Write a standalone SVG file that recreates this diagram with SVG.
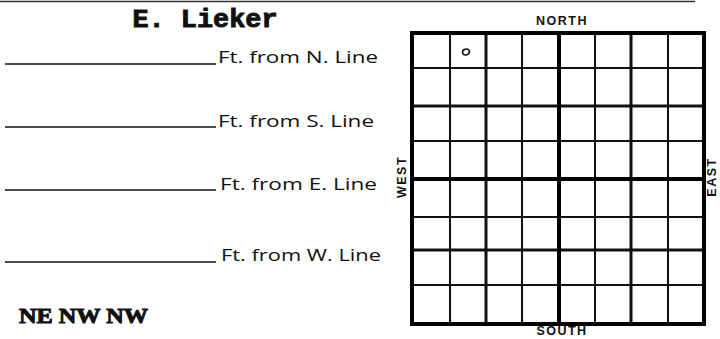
<svg xmlns="http://www.w3.org/2000/svg" width="720" height="339" viewBox="0 0 720 339">
<style>
.lbl{font-family:"Open Sans","Liberation Sans",sans-serif;font-size:17px;fill:#111}
.dir{font-family:"Liberation Sans",Arial,sans-serif;font-weight:bold;font-size:12.5px;fill:#111;letter-spacing:1.5px}
.ul{stroke:#111;stroke-width:1.5}
.g1{stroke:#111;stroke-width:2;fill:none}
.g2{stroke:#111;stroke-width:3;fill:none}
.g3{stroke:#000;stroke-width:4;fill:none}
</style>
<rect width="720" height="339" fill="#fff"/>
<line x1="0" y1="1.5" x2="695" y2="1.5" stroke="#333" stroke-width="1.5"/>
<g id="title">
<text x="205" y="27" text-anchor="middle" font-family="'Liberation Mono','Courier New',monospace" font-weight="bold" font-size="25" textLength="145" lengthAdjust="spacingAndGlyphs" fill="#111" stroke="#111" stroke-width="0.9">E. Lieker</text>
</g>
<g id="form">
<line class="ul" x1="5" y1="64" x2="216" y2="64"/>
<text class="lbl" x="218" y="63" textLength="160" lengthAdjust="spacingAndGlyphs">Ft. from N. Line</text>
<line class="ul" x1="5" y1="127" x2="216" y2="127"/>
<text class="lbl" x="218" y="127" textLength="156" lengthAdjust="spacingAndGlyphs">Ft. from S. Line</text>
<line class="ul" x1="5" y1="190" x2="216" y2="190"/>
<text class="lbl" x="220" y="190" textLength="157" lengthAdjust="spacingAndGlyphs">Ft. from E. Line</text>
<line class="ul" x1="5" y1="262" x2="216" y2="262"/>
<text class="lbl" x="221" y="261" textLength="160" lengthAdjust="spacingAndGlyphs">Ft. from W. Line</text>
</g>
<g id="quarter">
<text x="19" y="323" font-family="'Liberation Serif','Times New Roman',serif" font-weight="bold" font-size="22" textLength="129" lengthAdjust="spacingAndGlyphs" fill="#111" stroke="#111" stroke-width="1">NE NW NW</text>
</g>
<g id="plat">
<g class="g1">
<line x1="450" y1="33" x2="450" y2="324"/>
<line x1="522" y1="33" x2="522" y2="324"/>
<line x1="595" y1="33" x2="595" y2="324"/>
<line x1="668" y1="33" x2="668" y2="324"/>
<line x1="412" y1="68" x2="704" y2="68"/>
<line x1="412" y1="141" x2="704" y2="141"/>
<line x1="412" y1="217" x2="704" y2="217"/>
<line x1="412" y1="285" x2="704" y2="285"/>
</g>
<g class="g2">
<line x1="486" y1="33" x2="486" y2="324"/>
<line x1="631" y1="33" x2="631" y2="324"/>
<line x1="412" y1="106" x2="704" y2="106"/>
<line x1="412" y1="250" x2="704" y2="250"/>
</g>
<g class="g3">
<line x1="559" y1="33" x2="559" y2="324"/>
<line x1="412" y1="179" x2="704" y2="179"/>
<rect x="412" y="33" width="292" height="291"/>
</g>
<ellipse cx="466" cy="52" rx="3.5" ry="2.8" fill="none" stroke="#111" stroke-width="1.6" transform="rotate(-20 466 52)"/>
</g>
<g id="directions">
<text class="dir" x="562" y="25" text-anchor="middle">NORTH</text>
<text class="dir" x="562" y="335" text-anchor="middle">SOUTH</text>
<text class="dir" x="0" y="0" text-anchor="middle" transform="translate(406 177) rotate(-90)">WEST</text>
<text class="dir" x="0" y="0" text-anchor="middle" transform="translate(716 177) rotate(-90)">EAST</text>
</g>
</svg>
